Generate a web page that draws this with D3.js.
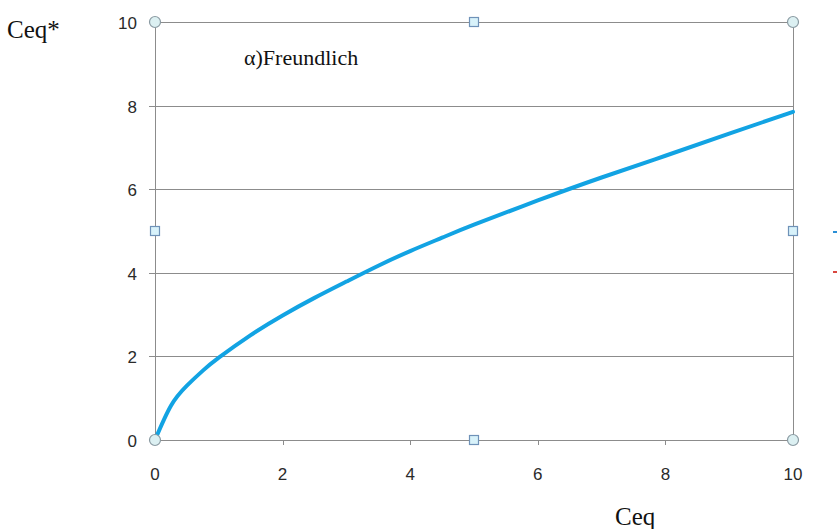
<!DOCTYPE html>
<html>
<head>
<meta charset="utf-8">
<script src="https://cdn.jsdelivr.net/npm/d3@7"></script>
<style>
  html, body { margin: 0; padding: 0; background: #ffffff; }
  svg { display: block; }
</style>
</head>
<body>
<svg id="chart" width="837" height="529"></svg>
<script>
// Freundlich isotherm: equilibrium concentrations
const ceq     = [0, 0.25, 0.5, 0.75, 1, 1.5, 2, 2.5, 3, 3.5, 4, 4.5, 5, 6, 7, 8, 9, 10];
const ceqStar = [0, 0.82, 1.3, 1.66, 1.97, 2.51, 2.98, 3.4, 3.79, 4.17, 4.52, 4.84, 5.15, 5.73, 6.28, 6.8, 7.33, 7.85];

const xTicks = [0, 2, 4, 6, 8, 10];
const yTicks = [0, 2, 4, 6, 8, 10];

const seriesColors = ["#2a8fd6", "#d9473f"];

const svg = d3.select("#chart");
const plotLeft = 155, plotRight = 793, plotTop = 22, plotBottom = 440;

const x = d3.scaleLinear().domain([0, 10]).range([plotLeft, plotRight]);
const y = d3.scaleLinear().domain([0, 10]).range([plotBottom, plotTop]);

const gridColor = "#8c8c8c";
const tickFont = "Liberation Sans, Arial, sans-serif";

// horizontal gridlines with left tick stubs
svg.append("g")
  .attr("transform", `translate(${plotLeft},0)`)
  .call(d3.axisLeft(y).tickValues(yTicks).tickSize(-(plotRight - plotLeft)).tickSizeOuter(0).tickFormat(""))
  .call(g => g.select(".domain").remove())
  .call(g => g.selectAll(".tick line").attr("stroke", gridColor).attr("x1", -6).attr("shape-rendering", "crispEdges"));

// y tick labels
svg.append("g")
  .selectAll("text")
  .data(yTicks)
  .join("text")
  .attr("x", 137)
  .attr("y", d => y(d) + 1)
  .attr("dy", "0.35em")
  .attr("text-anchor", "end")
  .attr("font-family", tickFont)
  .attr("font-size", 17)
  .attr("fill", "#2a2a2a")
  .text(d => d);

// bottom axis
svg.append("g")
  .attr("transform", `translate(0,${plotBottom})`)
  .call(d3.axisBottom(x).tickValues(xTicks).tickSize(5).tickSizeOuter(0).tickFormat(""))
  .call(g => g.select(".domain").attr("stroke", gridColor).attr("shape-rendering", "crispEdges"))
  .call(g => g.selectAll(".tick line").attr("stroke", gridColor).attr("shape-rendering", "crispEdges"));

svg.append("g")
  .selectAll("text")
  .data(xTicks)
  .join("text")
  .attr("x", d => x(d))
  .attr("y", 480)
  .attr("text-anchor", "middle")
  .attr("font-family", tickFont)
  .attr("font-size", 17)
  .attr("fill", "#2a2a2a")
  .text(d => d);

// plot frame: left, top, right
const frame = svg.append("g").attr("stroke", gridColor).attr("shape-rendering", "crispEdges");
frame.append("line").attr("x1", plotLeft).attr("x2", plotLeft).attr("y1", plotTop).attr("y2", plotBottom);
frame.append("line").attr("x1", plotRight).attr("x2", plotRight).attr("y1", plotTop).attr("y2", plotBottom);
frame.append("line").attr("x1", plotLeft).attr("x2", plotRight).attr("y1", plotTop).attr("y2", plotTop);

// curve
const pts = ceq.map((v, i) => [v, ceqStar[i]]);
const line = d3.line()
  .x(d => x(d[0]))
  .y(d => y(d[1]))
  .curve(d3.curveNatural);

svg.append("path")
  .datum(pts)
  .attr("d", line)
  .attr("fill", "none")
  .attr("stroke", "#12a3e3")
  .attr("stroke-width", 4)
  .attr("stroke-linecap", "round");

// selection handles on the plot area
const midX = (plotLeft + plotRight) / 2, midY = (plotTop + plotBottom) / 2;
const corners = [[plotLeft, plotTop], [plotRight, plotTop], [plotLeft, plotBottom], [plotRight, plotBottom]];
const mids = [[midX, plotTop], [plotLeft, midY], [plotRight, midY], [midX, plotBottom]];

svg.append("g")
  .selectAll("circle")
  .data(corners)
  .join("circle")
  .attr("cx", d => d[0])
  .attr("cy", d => d[1])
  .attr("r", 5.5)
  .attr("fill", "#dcf0f2")
  .attr("stroke", "#8a9aa2")
  .attr("stroke-width", 1.2);

svg.append("g")
  .selectAll("rect")
  .data(mids)
  .join("rect")
  .attr("x", d => d[0] - 4.5)
  .attr("y", d => d[1] - 4.5)
  .attr("width", 9)
  .attr("height", 9)
  .attr("fill", "#d8f2fa")
  .attr("stroke", "#6f92b8")
  .attr("stroke-width", 1.2);

// legend samples (clipped at the right edge)
svg.append("g")
  .selectAll("line")
  .data(seriesColors)
  .join("line")
  .attr("x1", 833)
  .attr("x2", 845)
  .attr("y1", (d, i) => 232 + i * 40)
  .attr("y2", (d, i) => 232 + i * 40)
  .attr("stroke", d => d)
  .attr("stroke-width", 2);

// titles
const serif = "Liberation Serif, 'Times New Roman', serif";
svg.append("text").attr("x", 7).attr("y", 38).attr("font-family", serif).attr("font-size", 25).attr("fill", "#111").text("Ceq*");
svg.append("text").attr("x", 615).attr("y", 525).attr("font-family", serif).attr("font-size", 25).attr("fill", "#111").text("Ceq");
svg.append("text").attr("x", 244).attr("y", 65).attr("font-family", serif).attr("font-size", 22).attr("fill", "#111").text("α)Freundlich");
</script>
</body>
</html>
